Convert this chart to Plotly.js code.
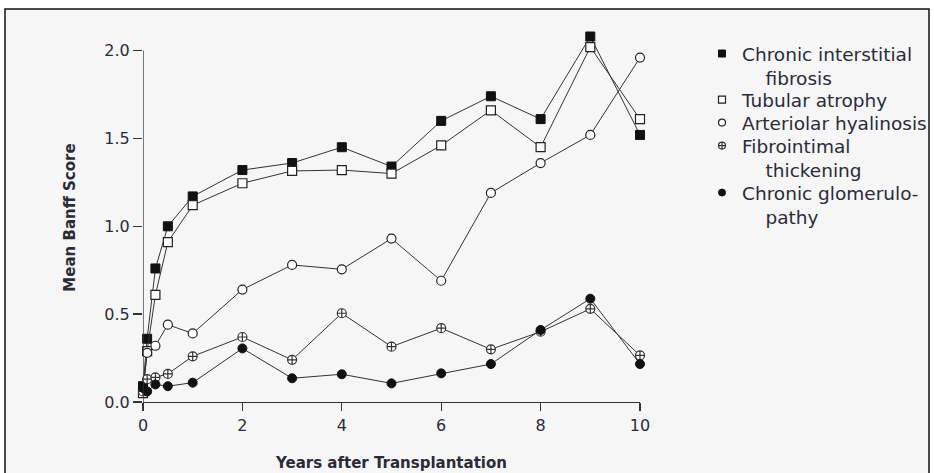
<!DOCTYPE html>
<html>
<head>
<meta charset="utf-8">
<script src="https://cdn.plot.ly/plotly-3.0.1.min.js"></script>
<style>html,body{margin:0;padding:0;background:#fff;}#chart{width:934px;height:473px;}</style>
</head>
<body>
<div id="chart"></div>
<script>
// Years after transplantation (0, 1 month, 3 months, 6 months, 1 year, then yearly)
const years = [0, 0.083, 0.25, 0.5, 1, 2, 3, 4, 5, 6, 7, 8, 9, 10];

const seriesNames = [
  "Chronic interstitial<br>\u00a0\u00a0\u00a0\u00a0fibrosis",
  "Tubular atrophy",
  "Arteriolar hyalinosis",
  "Fibrointimal<br>\u00a0\u00a0\u00a0\u00a0thickening",
  "Chronic glomerulo-<br>\u00a0\u00a0\u00a0\u00a0pathy"
];

const interstitialFibrosis = [0.09, 0.36, 0.76, 1.00, 1.17, 1.32, 1.36, 1.45, 1.34, 1.60, 1.74, 1.61, 2.08, 1.52];
const tubularAtrophy       = [0.05, 0.29, 0.61, 0.91, 1.12, 1.245, 1.315, 1.32, 1.30, 1.46, 1.66, 1.45, 2.02, 1.61];
const arteriolarHyalinosis = [0.07, 0.28, 0.32, 0.44, 0.39, 0.64, 0.78, 0.755, 0.93, 0.69, 1.19, 1.36, 1.52, 1.96];
const fibrointimal         = [0.06, 0.13, 0.14, 0.16, 0.26, 0.37, 0.24, 0.505, 0.315, 0.42, 0.30, 0.40, 0.53, 0.265];
const glomerulopathy       = [0.08, 0.06, 0.10, 0.09, 0.11, 0.305, 0.135, 0.158, 0.106, 0.163, 0.216, 0.41, 0.588, 0.216];

const xTicks = [0, 2, 4, 6, 8, 10];
const yTicks = [0, 0.5, 1.0, 1.5, 2.0];
const yTickText = ["0.0", "0.5", "1.0", "1.5", "2.0"];

const allSeries = [interstitialFibrosis, tubularAtrophy, arteriolarHyalinosis, fibrointimal, glomerulopathy];
const markerStyles = [
  {symbol: "square", size: 9, color: "#111", line: {color: "#111", width: 1}},
  {symbol: "square", size: 9, color: "#fff", line: {color: "#222", width: 1.2}},
  {symbol: "circle", size: 9, color: "#fff", line: {color: "#222", width: 1.2}},
  {symbol: "circle-cross", size: 9, color: "#fff", line: {color: "#333", width: 1.2}},
  {symbol: "circle", size: 9, color: "#111", line: {color: "#111", width: 1}}
];
const legendMarkers = [
  {symbol: "square", size: 7, color: "#111", line: {color: "#111", width: 1}},
  {symbol: "square", size: 7, color: "#fff", line: {color: "#222", width: 1.2}},
  {symbol: "circle", size: 7, color: "#fff", line: {color: "#222", width: 1.2}},
  {symbol: "circle-cross", size: 7, color: "#fff", line: {color: "#333", width: 1.2}},
  {symbol: "circle", size: 7, color: "#111", line: {color: "#111", width: 1}}
];
const legendIds = ["legend", "legend2", "legend3", "legend4", "legend5"];

const traces = [];
allSeries.forEach((vals, i) => {
  traces.push({
    x: years, y: vals, type: "scatter", mode: "lines+markers",
    line: {color: "#333", width: 1}, marker: markerStyles[i],
    cliponaxis: false, showlegend: false, hoverinfo: "x+y"
  });
});
// legend-only entries (symbol without line, as in the original)
allSeries.forEach((vals, i) => {
  traces.push({
    x: [null], y: [null], type: "scatter", mode: "markers",
    name: seriesNames[i], marker: legendMarkers[i], showlegend: true,
    legend: legendIds[i]
  });
});

const L = 143, R = 294, T = 33, B = 71;
const W = 934 - L - R, H = 473 - T - B;
const px = v => (v - L) / W;
const py = v => (473 - B - v) / H;

const FONT = "DejaVu Sans, Verdana, sans-serif";
const TXT = "#2b2b38";
const legendFirstLine = [53, 99, 122, 145, 192];
const legendBase = {
  xanchor: "left", yanchor: "top", bgcolor: "rgba(0,0,0,0)",
  font: {family: FONT, size: 18.5, color: TXT}, itemwidth: 30, valign: "top"
};

const layout = {
  width: 934, height: 473,
  margin: {l: L, r: R, t: T, b: B, autoexpand: false},
  paper_bgcolor: "#ffffff",
  plot_bgcolor: "rgba(0,0,0,0)",
  font: {family: FONT, color: TXT, size: 16},
  xaxis: {
    range: [0, 10], tickvals: xTicks, ticktext: xTicks.map(String),
    showline: true, linecolor: "#333", linewidth: 1.3,
    ticks: "outside", ticklen: 8, tickwidth: 1.3, tickcolor: "#333",
    showgrid: false, zeroline: false, automargin: false,
    tickfont: {size: 16},
    title: {text: "<b>Years after Transplantation</b>", font: {size: 15}, standoff: 24}
  },
  yaxis: {
    range: [0, 2.1], tickvals: yTicks, ticktext: yTickText,
    showline: false, ticks: "outside", ticklen: 9, tickwidth: 1.3, tickcolor: "#333",
    showgrid: false, zeroline: false, automargin: false,
    tickfont: {size: 16},
    title: {text: "<b>Mean Banff Score</b>", font: {size: 15}, standoff: 25}
  },
  shapes: [
    {type: "rect", xref: "paper", yref: "paper", x0: px(5), x1: px(929), y0: py(478), y1: py(9),
     line: {color: "#111", width: 1.5}, fillcolor: "#f6f6f6", layer: "below"},
    {type: "line", xref: "x", yref: "y", x0: 0, x1: 0, y0: 0, y1: 2.0,
     line: {color: "#333", width: 1.3}, layer: "above"}
  ],
  showlegend: true
};
legendIds.forEach((id, i) => {
  layout[id] = Object.assign({}, legendBase, {x: px(702), y: py(legendFirstLine[i] - 18)});
});

Plotly.newPlot("chart", traces, layout, {displayModeBar: false, staticPlot: true});
</script>
</body>
</html>
